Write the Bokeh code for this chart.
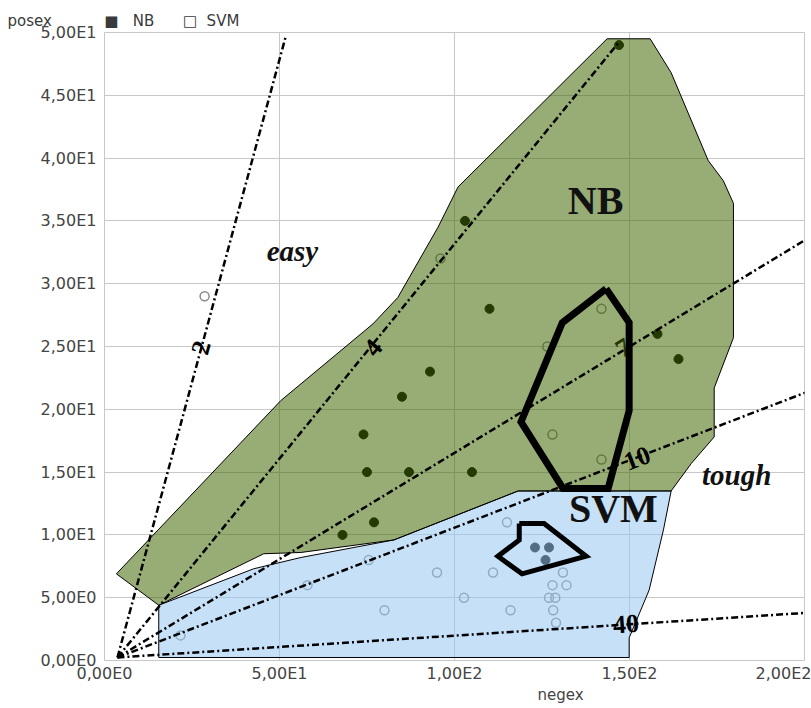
from bokeh.plotting import figure
from bokeh.models import FixedTicker, Title
from bokeh.core.properties import value
from bokeh.embed import file_html
from bokeh.resources import INLINE

# ---- axis ticks ----
x_ticks = [0, 50, 100, 150, 200]
x_tick_labels = ["0,00E0", "5,00E1", "1,00E2", "1,50E2", "2,00E2"]
y_ticks = [0, 5, 10, 15, 20, 25, 30, 35, 40, 45, 50]
y_tick_labels = ["0,00E0", "5,00E0", "1,00E1", "1,50E1", "2,00E1", "2,50E1",
                 "3,00E1", "3,50E1", "4,00E1", "4,50E1", "5,00E1"]

# ---- points ----
nb_x = [147, 103, 110, 93, 85, 74, 75, 87, 105, 77, 68, 158, 164, 123, 127, 126]
nb_y = [49, 35, 28, 23, 21, 18, 15, 15, 15, 11, 10, 26, 24, 9, 9, 8]

svm_x = [28.6, 96, 126.5, 142, 128, 142, 115, 95, 111, 102.7, 116, 131, 128, 132,
         127, 128.8, 128.2, 129, 75.5, 58, 80, 21.7]
svm_y = [29, 32, 25, 28, 18, 16, 11, 7, 7, 5, 4, 7, 6, 6, 5, 5, 4, 3, 8, 6, 4, 2]

# ---- regions ----
nb_region_x = [3.4, 50.4, 76.7, 83.8, 95.3, 101.0, 143.6, 155.9, 161.9, 172.5, 176.8,
               179.7, 179.7, 174.2, 174.2, 167.7, 161.9, 118.2, 82.7, 56.1, 45.5, 15.5]
nb_region_y = [6.9, 20.7, 26.8, 28.9, 34.5, 37.7, 49.5, 49.5, 46.8, 39.8, 38.2,
               36.4, 25.7, 21.7, 17.8, 15.7, 13.5, 13.5, 9.6, 8.6, 8.5, 4.4]

svm_region_x = [15.5, 15.5, 42.6, 56.1, 82.7, 118.2, 161.9, 159.7, 155.6, 151.1, 149.9, 149.9]
svm_region_y = [0.24, 4.4, 7.3, 8.2, 9.6, 13.5, 13.5, 10.4, 5.6, 2.6, 1.8, 0.24]

big_poly_x = [143.3, 149.9, 149.9, 143.9, 131.0, 119.0, 130.8, 143.3]
big_poly_y = [29.6, 26.9, 19.9, 13.7, 13.7, 19.0, 26.9, 29.6]

small_poly_x = [118.5, 125.6, 137.6, 119.3, 112.4, 118.5, 118.5]
small_poly_y = [10.9, 10.9, 8.3, 6.9, 8.3, 9.6, 10.9]

# ---- difficulty lines (from common origin) ----
line_origin = (3.7, 0.24)
line_end_x = [51.7, 146.9, 200.9, 200.9, 200.9]
line_end_y = [49.6, 49.2, 33.6, 21.4, 3.8]
line_labels = ["2", "4", "7", "10", "40"]
line_label_x = [27.6, 76.7, 148.2, 152.2, 149.0]
line_label_y = [24.9, 24.9, 24.9, 16.1, 2.9]
line_label_angle = [1.30, 0.883, 0.54, 0.365, 0.064]

# ---- region annotations ----
ann_text = ["NB", "SVM"]
ann_x = [140.3, 145.4]
ann_y = [36.6, 12.1]
ann2_text = ["easy", "tough"]
ann2_x = [53.7, 180.6]
ann2_y = [32.6, 14.8]

# ---- header / axis titles ----
y_title = "posex"
legend_names = ["NB", "SVM"]
x_title = "negex"

p = figure(width=811, height=708, x_range=(0, 200), y_range=(0, 50),
           output_backend="svg", toolbar_location=None,
           min_border_left=104, min_border_right=7, min_border_top=32,
           min_border_bottom=48)
p.background_fill_color = "white"
p.border_fill_color = "white"
p.outline_line_color = "#c8c8c8"

p.xaxis.ticker = FixedTicker(ticks=x_ticks)
p.yaxis.ticker = FixedTicker(ticks=y_ticks)
p.xaxis.major_label_overrides = dict(zip(x_ticks, x_tick_labels))
p.yaxis.major_label_overrides = dict(zip(y_ticks, y_tick_labels))
for ax in (p.xaxis, p.yaxis):
    ax.axis_line_color = None
    ax.major_tick_line_color = None
    ax.minor_tick_line_color = None
    ax.major_tick_out = 0
    ax.major_tick_in = 0
    ax.major_label_text_font = "DejaVu Sans"
    ax.major_label_text_font_size = "16px"
    ax.major_label_text_color = "#444444"
p.xaxis.major_label_standoff = 3
p.yaxis.major_label_standoff = 8

p.grid.grid_line_color = "#c8c8c8"
p.grid.grid_line_width = 1

# points (drawn beneath translucent region overlays)
p.scatter(svm_x, svm_y, marker="circle", size=9, fill_color=None,
          line_color="#8a8a8a", line_width=1.5)
p.scatter(nb_x, nb_y, marker="circle", size=9, fill_color="black",
          line_color="black")

# label partly hidden under the thick polygon
p.text([line_label_x[2]], [line_label_y[2]], text=[line_labels[2]],
       angle=line_label_angle[2], text_font=value("Liberation Serif"),
       text_font_style="bold", text_font_size="26px",
       text_align="center", text_baseline="middle", text_color="black")

# regions
p.patch(svm_region_x, svm_region_y, fill_color="#97c7f2", fill_alpha=0.55,
        line_color="black", line_width=1)
p.patch(nb_region_x, nb_region_y, fill_color="#446806", fill_alpha=0.55,
        line_color="black", line_width=1)

# dash-dot lines
ox, oy = line_origin
p.multi_line([[ox, ex] for ex in line_end_x], [[oy, ey] for ey in line_end_y],
             line_color="black", line_width=2.5, line_dash="7 3 2 3")

# thick polygons
p.line(big_poly_x, big_poly_y, line_color="black", line_width=7, line_join="miter")
p.line(small_poly_x, small_poly_y, line_color="black", line_width=5, line_join="miter")

# line labels
idx = [0, 1, 3, 4]
p.text([line_label_x[i] for i in idx], [line_label_y[i] for i in idx],
       text=[line_labels[i] for i in idx],
       angle=[line_label_angle[i] for i in idx],
       text_font=value("Liberation Serif"), text_font_style="bold",
       text_font_size="26px", text_align="center", text_baseline="middle",
       text_color="black")

p.text(ann_x, ann_y, text=ann_text, text_font=value("Liberation Serif"),
       text_font_style="bold", text_font_size="40px", text_align="center",
       text_baseline="middle", text_color="#111111")
p.text(ann2_x, ann2_y, text=ann2_text, text_font=value("Liberation Serif"),
       text_font_style="bold italic", text_font_size="29px", text_align="center",
       text_baseline="middle", text_color="#111111")

# header line: y-axis title and legend
sp = "\u00a0"
header = (y_title + sp * 11 + "\u25A0" + sp * 3 + legend_names[0] + sp * 6 +
          "\u25A1" + sp * 2 + legend_names[1])
p.title = Title(text=header, align="left", offset=-97, vertical_align="middle",
                text_font="DejaVu Sans", text_font_size="15px",
                text_font_style="normal", text_color="#3a3a3a", standoff=4)

# x-axis title, placed right of centre as in the original
p.add_layout(Title(text=x_title, align="left", offset=433, vertical_align="top",
                   text_font="DejaVu Sans", text_font_size="15px",
                   text_font_style="normal", text_color="#444444", standoff=0),
             "below")

open("out.html", "w").write(file_html(p, INLINE))
